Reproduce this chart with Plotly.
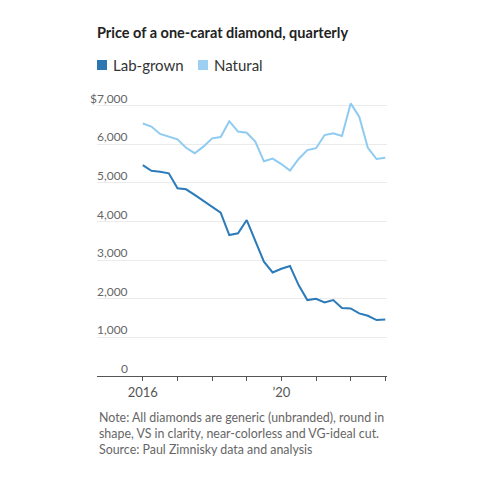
import plotly.graph_objects as go

quarters = [
    "2016-01-01", "2016-04-01", "2016-07-01", "2016-10-01",
    "2017-01-01", "2017-04-01", "2017-07-01", "2017-10-01",
    "2018-01-01", "2018-04-01", "2018-07-01", "2018-10-01",
    "2019-01-01", "2019-04-01", "2019-07-01", "2019-10-01",
    "2020-01-01", "2020-04-01", "2020-07-01", "2020-10-01",
    "2021-01-01", "2021-04-01", "2021-07-01", "2021-10-01",
    "2022-01-01", "2022-04-01", "2022-07-01", "2022-10-01",
    "2023-01-01",
]
lab_grown = [5460, 5315, 5290, 5250, 4860, 4835, 4690, 4530, 4385, 4230,
             3650, 3695, 4040, 3495, 2962, 2682, 2777, 2847, 2355, 1966,
             2000, 1907, 1966, 1759, 1751, 1622, 1560, 1448, 1466]
natural = [6540, 6460, 6270, 6200, 6130, 5910, 5770, 5940, 6155, 6190,
           6600, 6330, 6300, 6070, 5560, 5630, 5490, 5320, 5620, 5850,
           5900, 6240, 6285, 6215, 7060, 6715, 5910, 5620, 5650]

y_ticks = [0, 1000, 2000, 3000, 4000, 5000, 6000, 7000]
y_tick_labels = ["0", "1,000", "2,000", "3,000", "4,000", "5,000", "6,000", "$7,000"]
x_ticks = ["2016-01-01", "2017-01-01", "2018-01-01", "2019-01-01",
           "2020-01-01", "2021-01-01", "2022-01-01", "2023-01-01"]
x_tick_labels = ["2016", "", "", "", "\u201920", "", "", ""]

series_names = ["Lab-grown", "Natural"]
series_colors = ["#2b7bba", "#8fcbf1"]
legend_colors = ["#2c77b1", "#9ccff2"]

FONT = "Lato"
W, H = 480, 480
ML, MR, MT, MB = 97, 93, 98, 104
PW = W - ML - MR
PH = H - MT - MB

def px_x(px):
    return (px - ML) / PW

def px_y(py):
    return (H - MB - py) / PH

fig = go.Figure()
fig.add_trace(go.Scatter(x=quarters, y=natural, mode="lines", name=series_names[1],
                         line=dict(color=series_colors[1], width=2), showlegend=False))
fig.add_trace(go.Scatter(x=quarters, y=lab_grown, mode="lines", name=series_names[0],
                         line=dict(color=series_colors[0], width=2), showlegend=False))

annotations = []
for v, t in zip(y_ticks, y_tick_labels):
    annotations.append(dict(x=px_x(130), xref="paper", y=v, yref="y", text=t,
                            showarrow=False, xanchor="right", yanchor="bottom",
                            yshift=-2, font=dict(family=FONT, size=12, color="#666666")))

shapes = []
leg_x = [97, 198]
for i, name in enumerate(series_names):
    shapes.append(dict(type="rect", xref="paper", yref="paper",
                       x0=px_x(leg_x[i]), x1=px_x(leg_x[i] + 10),
                       y0=px_y(70), y1=px_y(60),
                       fillcolor=legend_colors[i], line=dict(width=0)))
    annotations.append(dict(x=px_x(leg_x[i] + 14), xref="paper", y=px_y(65), yref="paper",
                            text=name, showarrow=False, xanchor="left", yanchor="middle",
                            font=dict(family=FONT, size=15, color="#333333")))

annotations.append(dict(
    x=0, xref="paper", y=px_y(408), yref="paper", xanchor="left", yanchor="top",
    align="left", showarrow=False,
    text="Note: All diamonds are generic (unbranded), round in<br>"
         "shape, VS in clarity, near-colorless and VG-ideal cut.<br>"
         "Source: Paul Zimnisky data and analysis",
    font=dict(family=FONT, size=12.4, color="#666666")))

fig.update_layout(
    width=W, height=H,
    margin=dict(l=ML, r=MR, t=MT, b=MB),
    paper_bgcolor="white", plot_bgcolor="white",
    title=dict(text="<b>Price of a one-carat diamond, quarterly</b>",
               x=ML / W, xref="container", xanchor="left",
               y=1 - 33 / H, yref="container", yanchor="middle",
               font=dict(family=FONT, size=14.5, color="#222222")),
    xaxis=dict(type="date", range=["2014-09-05", "2023-01-19"],
               tickvals=x_ticks, ticktext=x_tick_labels,
               ticks="outside", ticklen=4, tickcolor="#555555", tickwidth=1,
               showline=True, linecolor="#555555", linewidth=1,
               showgrid=False, zeroline=False,
               tickfont=dict(family=FONT, size=13, color="#555555")),
    yaxis=dict(range=[0, 7200], tickvals=y_ticks, showticklabels=False,
               showgrid=True, gridcolor="#ebebeb", gridwidth=1,
               zeroline=False, ticks=""),
    annotations=annotations, shapes=shapes,
    showlegend=False,
)

fig.write_html("out.html", config={"displayModeBar": False},
               post_script="document.body.style.margin='0';")
